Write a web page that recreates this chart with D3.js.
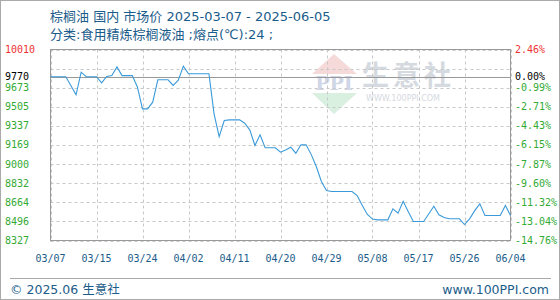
<!DOCTYPE html>
<html><head><meta charset="utf-8">
<script src="https://cdn.jsdelivr.net/npm/d3@7"></script>
<style>
html,body{margin:0;padding:0;background:#fff;}
svg{display:block;}
</style></head>
<body>
<svg id="c" width="560" height="300"></svg>
<script>
// ---- data ----
const titleText = "棕榈油 国内 市场价 2025-03-07 - 2025-06-05";
const subtitleText = "分类:食用精炼棕榈液油 ;熔点(℃):24 ;";
const xTickLabels = ["03/07","03/15","03/24","04/02","04/11","04/20","04/29","05/08","05/17","05/26","06/04"];
const yTickValues = [10010, 9770, 9673, 9505, 9337, 9169, 9000, 8832, 8664, 8496, 8327];
const yTickLabels = ["10010","9770","9673","9505","9337","9169","9000","8832","8664","8496","8327"];
const pctTickLabels = ["2.46%","0.00%","-0.99%","-2.71%","-4.43%","-6.15%","-7.87%","-9.60%","-11.32%","-13.04%","-14.76%"];
const baseValue = 9770;
const prices = [
  9770, 9770, 9770, 9770, 9690, 9611, 9810, 9770, 9770, 9770,
  9716, 9773, 9780, 9857, 9780, 9780, 9780, 9680, 9487, 9487,
  9546, 9743, 9743, 9743, 9693, 9740, 9863, 9796, 9796, 9796,
  9796, 9796, 9443, 9243, 9384, 9390, 9390, 9390, 9360, 9300,
  9164, 9258, 9144, 9144, 9144, 9105, 9125, 9149, 9096, 9170,
  9170, 9086, 8979, 8847, 8768, 8759, 8759, 8759, 8759, 8759,
  8723, 8635, 8556, 8516, 8509, 8509, 8509, 8606, 8568, 8673,
  8580, 8494, 8494, 8494, 8560, 8629, 8553, 8530, 8518, 8518,
  8518, 8468, 8518, 8590, 8650, 8547, 8547, 8547, 8547, 8635,
  8547
];
const yMin = 8327, yMax = 10010;

// ---- layout ----
const L = 50.5, R = 510.5, T = 49.5, B = 240.5;
const svg = d3.select("#c");
const blue = "#1b5c8a";
const monoFont = "'DejaVu Sans Mono', monospace";
const sansFont = "'DejaVu Sans','Noto Sans CJK SC',sans-serif";

const x = d3.scaleLinear().domain([0, prices.length - 1]).range([L, R]);
const xt = d3.scaleLinear().domain([0, xTickLabels.length - 1]).range([L, R]);
const y = d3.scaleLinear().domain([yMin, yMax]).range([B, T]);

// outer frame
svg.append("rect").attr("x",0.5).attr("y",0.5).attr("width",559).attr("height",299)
  .attr("fill","#fff").attr("stroke","#aaa");

// titles
svg.append("text").attr("x",50).attr("y",21).attr("fill",blue)
  .attr("font-family",sansFont).attr("font-size",13).text(titleText);
svg.append("text").attr("x",50).attr("y",39).attr("fill",blue)
  .attr("font-family",sansFont).attr("font-size",13).text(subtitleText);

// watermark
const wm = svg.append("g");
wm.append("path").attr("d","M312,74 L334,54 L357,74 Z").attr("fill","#f6dada");
wm.append("path").attr("d","M312,93 L357,93 L334,114 Z").attr("fill","#d9efdf");
wm.append("text").attr("x",334).attr("y",90).attr("text-anchor","middle")
  .attr("font-family","'DejaVu Serif',serif").attr("font-weight","bold").attr("font-size",19)
  .attr("fill","#cfd6e6").text("PPI");
wm.append("text").attr("x",362).attr("y",85).attr("font-family","'Noto Sans CJK SC',sans-serif")
  .attr("font-weight","bold").attr("font-size",27).attr("letter-spacing",4).attr("fill","#d5d9e0").text("生意社");
wm.append("text").attr("x",366).attr("y",101).attr("font-family",sansFont)
  .attr("font-size",8).attr("fill","#d5d9e0").text("WWW.100PPI.COM");

// grid
const g = svg.append("g");
const gridVals = d3.range(11).map(k => yMin + k * (yMax - yMin) / 10);
g.selectAll("line.hg").data(gridVals).join("line")
  .attr("x1",L).attr("x2",R).attr("y1",d=>Math.round(y(d))+0.5).attr("y2",d=>Math.round(y(d))+0.5)
  .attr("stroke","#c8c8c8").attr("stroke-dasharray","3,3");
g.selectAll("line.vg").data(xTickLabels).join("line")
  .attr("x1",(d,i)=>Math.round(xt(i))+0.5).attr("x2",(d,i)=>Math.round(xt(i))+0.5)
  .attr("y1",T).attr("y2",B)
  .attr("stroke","#c8c8c8").attr("stroke-dasharray","3,3");

// baseline
svg.append("line").attr("x1",L).attr("x2",R)
  .attr("y1",Math.round(y(baseValue))+0.5).attr("y2",Math.round(y(baseValue))+0.5)
  .attr("stroke","#999").attr("stroke-width",1);

// plot border
svg.append("rect").attr("x",L).attr("y",T).attr("width",R-L).attr("height",B-T)
  .attr("fill","none").attr("stroke","#999");

// line
svg.append("path").datum(prices)
  .attr("d", d3.line().x((d,i)=>x(i)).y(d=>y(d)))
  .attr("fill","none").attr("stroke","#3a9ad9").attr("stroke-width",1.1);

// left axis labels
const colorFor = (v) => v > baseValue ? "#ee3333" : (v === baseValue ? "#000" : "#33aa33");
svg.selectAll("text.yl").data(yTickValues).join("text")
  .attr("x",5).attr("y",d=>y(d)).attr("dy","0.35em")
  .attr("font-family",monoFont).attr("font-size",10)
  .attr("fill",d=>colorFor(d)).text((d,i)=>yTickLabels[i]);
svg.selectAll("text.yr").data(yTickValues).join("text")
  .attr("x",515).attr("y",d=>y(d)).attr("dy","0.35em")
  .attr("font-family",monoFont).attr("font-size",10)
  .attr("fill",d=>colorFor(d)).text((d,i)=>pctTickLabels[i]);

// x labels
svg.selectAll("text.xl").data(xTickLabels).join("text")
  .attr("x",(d,i)=>xt(i)).attr("y",262).attr("text-anchor","middle")
  .attr("font-family",monoFont).attr("font-size",10).attr("fill",blue).text(d=>d);

// footer
svg.append("line").attr("x1",10).attr("x2",551).attr("y1",278.5).attr("y2",278.5).attr("stroke","#aaa");
svg.append("text").attr("x",10).attr("y",294).attr("font-family",sansFont).attr("font-size",12.5)
  .attr("fill",blue).text("© 2025.06 生意社");
svg.append("text").attr("x",549).attr("y",294).attr("text-anchor","end").attr("font-family",sansFont)
  .attr("font-size",12.5).attr("fill",blue).text("www.100PPI.com");
</script>
</body></html>
